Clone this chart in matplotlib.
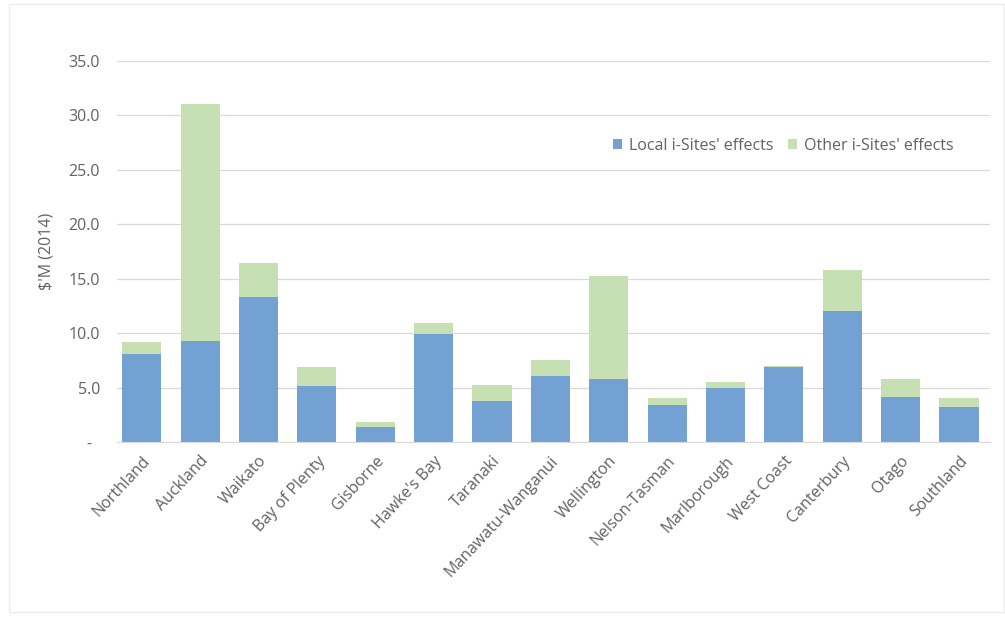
import numpy as np
import matplotlib.pyplot as plt
from matplotlib.patches import Rectangle
from matplotlib.ticker import FuncFormatter

regions = ['Northland', 'Auckland', 'Waikato', 'Bay of Plenty', 'Gisborne',
           "Hawke's Bay", 'Taranaki', 'Manawatu-Wanganui', 'Wellington',
           'Nelson-Tasman', 'Marlborough', 'West Coast', 'Canterbury',
           'Otago', 'Southland']
local_effects = [8.1, 9.3, 13.3, 5.1, 1.4, 9.9, 3.8, 6.1, 5.8, 3.4, 5.0, 6.9, 12.0, 4.1, 3.2]
other_effects = [1.1, 21.7, 3.1, 1.8, 0.4, 1.0, 1.4, 1.4, 9.4, 0.6, 0.5, 0.1, 3.8, 1.7, 0.8]

blue = '#74a1d4'
green = '#c6dfb3'
grey = '#626262'

plt.rcParams['font.family'] = ['Open Sans', 'DejaVu Sans']

fig = plt.figure(figsize=(10.05, 6.27), dpi=100)
ax = fig.add_axes([0.116, 0.295, 0.869, 0.608])

# faint chart-area border
fig.patches.append(Rectangle((0.009, 0.024), 0.99, 0.97, transform=fig.transFigure,
                             fill=False, edgecolor='#ededed', linewidth=1.0))

x = np.arange(len(regions))
ax.bar(x, local_effects, width=0.67, color=blue, label="Local i-Sites' effects", zorder=2)
ax.bar(x, other_effects, width=0.67, bottom=local_effects, color=green,
       label="Other i-Sites' effects", zorder=2)

ax.set_xlim(-0.43, 14.53)
ax.set_ylim(0, 35)
ax.set_yticks(np.arange(0, 36, 5))
ax.yaxis.set_major_formatter(FuncFormatter(lambda v, p: '-  ' if v == 0 else f'{v:.1f}'))
ax.grid(axis='y', color='#d9d9d9', linewidth=0.9, zorder=0)
ax.set_axisbelow(True)

for side in ['top', 'right', 'left']:
    ax.spines[side].set_visible(False)
ax.spines['bottom'].set_color('#d9d9d9')

ax.tick_params(axis='y', length=0, colors=grey, labelsize=11.5, pad=12)
ax.tick_params(axis='x', length=0, colors=grey, labelsize=11.5, pad=8)
ax.set_xticks(x)
ax.set_xticklabels(regions, rotation=47, ha='right', rotation_mode='anchor')
ax.set_ylabel("$'M (2014)", color=grey, fontsize=11.5, labelpad=10)

ax.legend(loc='center right', bbox_to_anchor=(0.958, 0.777), ncol=2, frameon=False,
          fontsize=11.5, labelcolor=grey, handlelength=0.6, handleheight=0.6,
          handletextpad=0.4, columnspacing=0.9, borderpad=0, borderaxespad=0)

plt.savefig('out.png', dpi=100)
